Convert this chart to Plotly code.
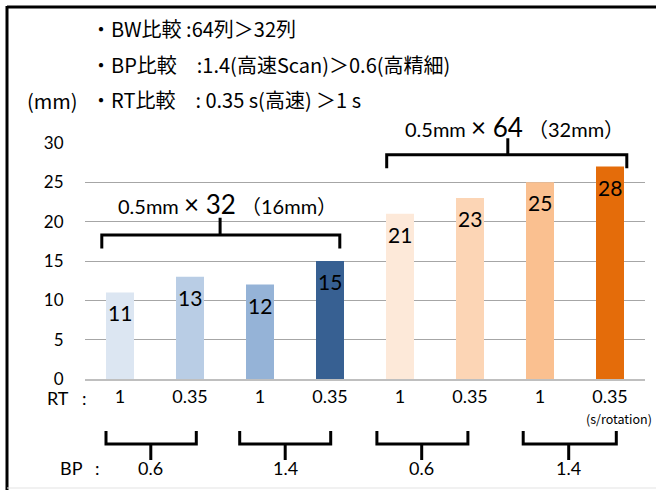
import plotly.graph_objects as go

# ---------------- data ----------------
categories = ["32列 BP0.6 RT1", "32列 BP0.6 RT0.35", "32列 BP1.4 RT1", "32列 BP1.4 RT0.35",
              "64列 BP0.6 RT1", "64列 BP0.6 RT0.35", "64列 BP1.4 RT1", "64列 BP1.4 RT0.35"]
rt_labels = ["1", "0.35", "1", "0.35", "1", "0.35", "1", "0.35"]
values = [11, 13, 12, 15, 21, 23, 25, 27]
value_labels = ["11", "13", "12", "15", "21", "23", "25", "28"]
bp_labels = ["0.6", "1.4", "0.6", "1.4"]
bw_labels = ["0.5mm <span style='font-size:26px'>× 32</span> （16mm）",
             "0.5mm <span style='font-size:26px'>× 64</span> （32mm）"]
y_ticks = [0, 5, 10, 15, 20, 25, 30]
notes = ["・BW比較 :64列＞32列",
         "・BP比較　:1.4(高速Scan)＞0.6(高精細)",
         "・RT比較　: 0.35 s(高速) ＞1 s"]
colors = ["#DCE6F2", "#B9CDE5", "#95B3D7", "#376092",
          "#FDE9D9", "#FCD5B5", "#FAC090", "#E46C0A"]

# ---------------- layout helpers ----------------
W, H = 656, 490
L, R, T, B = 85, 11, 143, 111
PW, PH = W - L - R, H - T - B
N = len(categories)
YMAX = 30

def px(xp):  # pixel x -> paper
    return (xp - L) / PW

def py(yp):  # pixel y -> paper
    return (H - B - yp) / PH

def cx(i):  # category index -> paper
    return (i + 0.5) / N

def vy(v):  # value -> paper
    return v / YMAX

NUM_FONT = "Lato, 'Noto Sans CJK JP', sans-serif"
JP_FONT = "'Noto Sans CJK JP', sans-serif"

fig = go.Figure()
fig.add_trace(go.Bar(
    x=categories, y=values,
    marker=dict(color=colors, line=dict(width=0)),
    hoverinfo="skip",
))

annotations = []
# value labels inside bar tops
for c, v, lab in zip(categories, values, value_labels):
    annotations.append(dict(x=c, y=v, xref="x", yref="y", text=lab, showarrow=False,
                            yanchor="top", yshift=-6,
                            font=dict(family=NUM_FONT, size=21, color="#000000")))

shapes = []
LW = 3

def bracket(x0, x1, xc, y_end, y_bar, y_tip):
    return dict(type="path", xref="paper", yref="paper",
                path=f"M {x0},{y_end} L {x0},{y_bar} L {x1},{y_bar} L {x1},{y_end} "
                     f"M {xc},{y_bar} L {xc},{y_tip}",
                line=dict(color="#000000", width=LW))

# top brackets (BW groups)
top_groups = [(-0.26, 3.14, 1.43, 16.6, 18.3, 20.5, 22.2),
              (3.81, 7.24, 5.54, 26.8, 28.5, 30.6, 32.0)]
for (a, b_, c, ye, yb, yt, ytxt), lab in zip(top_groups, bw_labels):
    shapes.append(bracket(cx(a), cx(b_), cx(c), vy(ye), vy(yb), vy(yt)))
    annotations.append(dict(x=cx(c), y=vy(ytxt), xref="paper", yref="paper", text=lab,
                            showarrow=False, xanchor="center", yanchor="middle", xshift=7,
                            font=dict(family=NUM_FONT, size=20, color="#000000")))

# bottom brackets (BP groups)
bot_groups = [(-0.2, 1.09, 0.44), (1.71, 3.01, 2.36), (3.67, 4.97, 4.31), (5.76, 7.09, 6.41)]
for (a, b_, c), lab in zip(bot_groups, bp_labels):
    shapes.append(bracket(cx(a), cx(b_), cx(c), py(431), py(444), py(460)))
    annotations.append(dict(x=cx(c), y=py(468), xref="paper", yref="paper", text=lab,
                            showarrow=False, xanchor="center", yanchor="middle",
                            font=dict(family=NUM_FONT, size=18, color="#000000")))

# row titles
annotations += [
    dict(x=px(45), y=py(398), xref="paper", yref="paper", text="RT", showarrow=False,
         xanchor="left", yanchor="middle", font=dict(family=NUM_FONT, size=18, color="#000")),
    dict(x=px(84), y=py(398), xref="paper", yref="paper", text=":", showarrow=False,
         xanchor="center", yanchor="middle", font=dict(family=NUM_FONT, size=18, color="#000")),
    dict(x=px(58), y=py(468), xref="paper", yref="paper", text="BP", showarrow=False,
         xanchor="left", yanchor="middle", font=dict(family=NUM_FONT, size=18, color="#000")),
    dict(x=px(97), y=py(468), xref="paper", yref="paper", text=":", showarrow=False,
         xanchor="center", yanchor="middle", font=dict(family=NUM_FONT, size=18, color="#000")),
    dict(x=px(584), y=py(418), xref="paper", yref="paper", text="(s/rotation)", showarrow=False,
         xanchor="left", yanchor="middle", font=dict(family=JP_FONT, size=12.5, color="#000")),
    dict(x=px(52), y=py(100), xref="paper", yref="paper", text="(mm)", showarrow=False,
         xanchor="center", yanchor="middle", font=dict(family=JP_FONT, size=20, color="#000")),
]
for note, yp in zip(notes, [29, 64, 99]):
    annotations.append(dict(x=px(89), y=py(yp), xref="paper", yref="paper", text=note,
                            showarrow=False, xanchor="left", yanchor="middle",
                            font=dict(family=JP_FONT, size=20, color="#000")))

# frame lines
shapes += [
    dict(type="line", xref="paper", yref="paper", x0=px(7), x1=px(W + 10), y0=py(7), y1=py(7),
         line=dict(color="#000000", width=3)),
    dict(type="line", xref="paper", yref="paper", x0=px(7), x1=px(7), y0=py(6), y1=py(H + 5),
         line=dict(color="#000000", width=3)),
    dict(type="line", xref="paper", yref="paper", x0=px(7), x1=px(W + 10), y0=py(488), y1=py(488),
         line=dict(color="#E3E3E3", width=1)),
]

fig.update_layout(
    width=W, height=H,
    margin=dict(l=L, r=R, t=T, b=B, pad=0),
    paper_bgcolor="white", plot_bgcolor="white",
    showlegend=False, bargap=0.6,
    annotations=annotations, shapes=shapes,
    xaxis=dict(type="category", categoryorder="array", categoryarray=categories,
               tickmode="array", tickvals=categories, ticktext=rt_labels,
               showline=True, linecolor="#BFBFBF", linewidth=2, showgrid=False,
               ticks="",
               tickfont=dict(family=NUM_FONT, size=18, color="#000000"),
               range=[-0.5, N - 0.5], fixedrange=True),
    yaxis=dict(range=[0, YMAX], tickvals=y_ticks, ticktext=[str(t) for t in y_ticks],
               showgrid=True, gridcolor="#A6A6A6", gridwidth=1, zeroline=False,
               showline=False, ticks="outside", ticklen=17, tickcolor="rgba(0,0,0,0)",
               tickfont=dict(family=NUM_FONT, size=17, color="#000000"), fixedrange=True),
)

fig.write_html("out.html", config={"displayModeBar": False},
               post_script="document.body.style.margin='0';document.body.style.overflow='hidden';")
